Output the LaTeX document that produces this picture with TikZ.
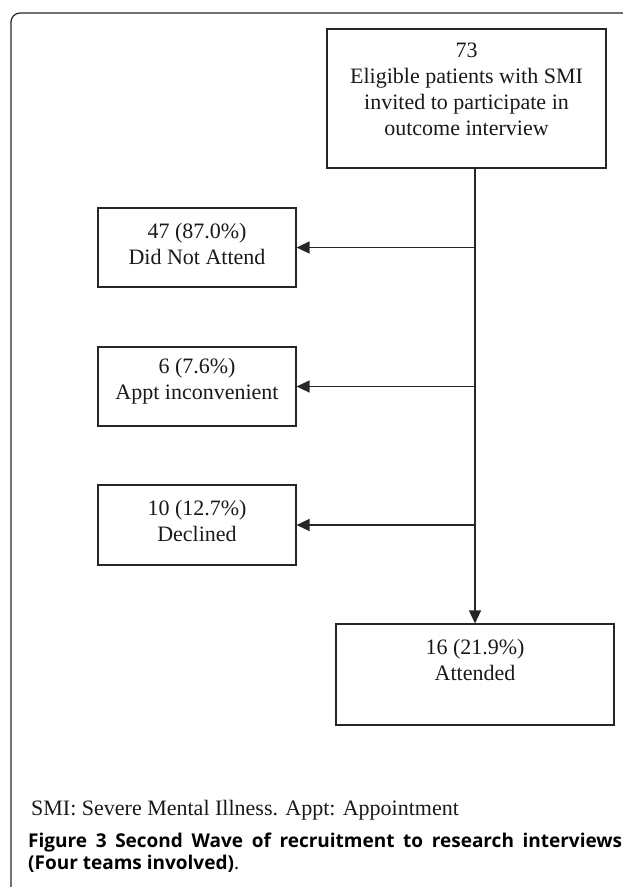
\documentclass[tikz,border=0pt]{standalone}
\usepackage{fontspec}
\setmainfont{Liberation Serif}
\newfontfamily\capfont{Open Sans}
\usetikzlibrary{arrows.meta}
\begin{document}
\begin{tikzpicture}[x=1pt,y=-1pt,
  boxnode/.style={draw=black!85, line width=1.2pt, inner sep=0pt},
  boxtext/.style={align=center, inner sep=0pt, font=\fontsize{22}{26}\selectfont, text=black!90},
  conn/.style={draw=black!85, line width=1.5pt, -{Triangle[length=13pt,width=12pt]}},
  frame/.style={draw=black!85, line width=1.2pt, rounded corners=9pt}]
\useasboundingbox (0,0) rectangle (622,887);
% outer frame (cropped on right and bottom)
\draw[frame] (11,900) -- (11,13) -- (640,13);
% boxes
\node[boxnode, minimum width=279pt, minimum height=139pt] (top) at (466.5,98.5) {};
\node[boxtext] (toptext) at (466.5,89) {73\\Eligible patients with SMI\\invited to participate in\\outcome interview};
\node[boxnode, minimum width=198pt, minimum height=79pt] (b1) at (197,247.5) {};
\node[boxtext] (b1text) at (197,243.5) {47 (87.0\%)\\Did Not Attend};
\node[boxnode, minimum width=198pt, minimum height=79pt] (b2) at (197,386.5) {};
\node[boxtext] (b2text) at (197,381.5) {6 (7.6\%)\\Appt inconvenient};
\node[boxnode, minimum width=198pt, minimum height=80pt] (b3) at (197,525) {};
\node[boxtext] (b3text) at (197,521) {10 (12.7\%)\\Declined};
\node[boxnode, minimum width=278pt, minimum height=101pt] (att) at (475,674.5) {};
\node[boxtext] (atttext) at (475,660) {16 (21.9\%)\\Attended};
% connectors
\draw[conn] (att.north |- top.south) -- (att.north);
\draw[conn] (att.north |- b1.east) -- (b1.east);
\draw[conn] (att.north |- b2.east) -- (b2.east);
\draw[conn] (att.north |- b3.east) -- (b3.east);
% footnote and caption
\node[anchor=west, inner sep=0pt, font=\fontsize{22}{26}\selectfont, text=black!90] (note) at (31,810) {SMI: Severe Mental Illness. Appt: Appointment};
\node[anchor=north west, inner sep=0pt, align=left, font=\capfont\fontsize{19}{22}\selectfont, text=black] (cap) at (28,833)
  {\makebox[594pt][s]{\bfseries Figure 3 Second Wave of recruitment to research interviews}\\{\bfseries (Four teams involved)}.};
\end{tikzpicture}
\end{document}
